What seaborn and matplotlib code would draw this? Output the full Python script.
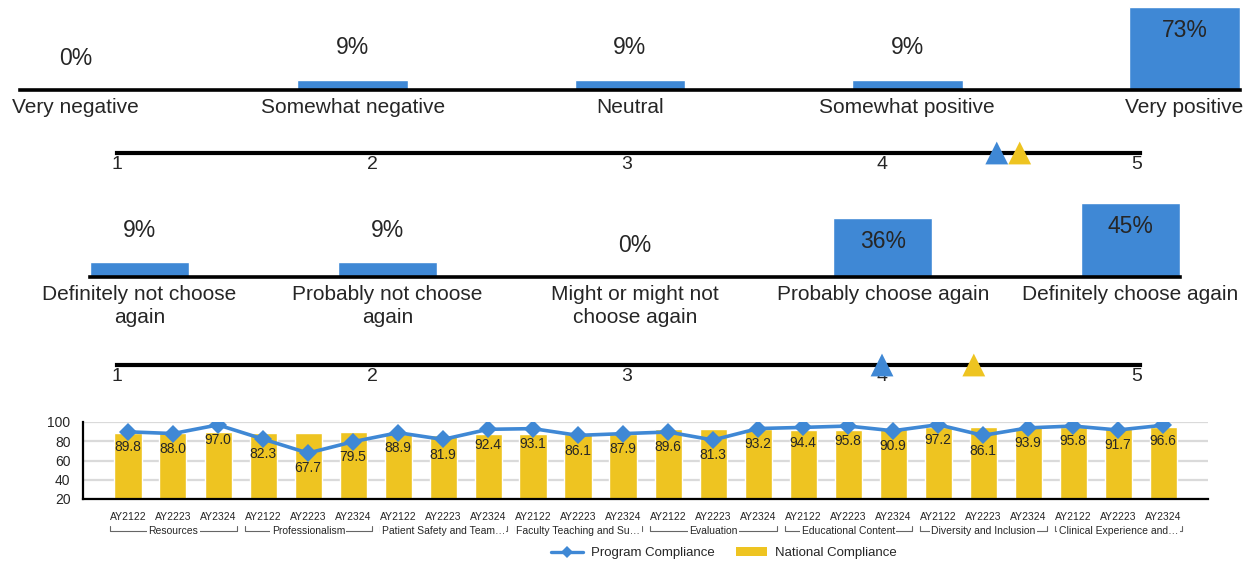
import numpy as np
import pandas as pd
import seaborn as sns
import matplotlib
matplotlib.use("Agg")
import matplotlib.pyplot as plt
from matplotlib.lines import Line2D
from matplotlib.patches import Patch

W, H = 1254, 562
BLUE = "#3F88D5"
YELLOW = "#EEC421"

# question 1: overall evaluation
Q1_LABELS = ["Very negative", "Somewhat negative", "Neutral", "Somewhat positive", "Very positive"]
Q1_PCT = [0, 9, 9, 9, 73]
Q1_PROGRAM_MEAN = 4.45
Q1_NATIONAL_MEAN = 4.54

# question 2: choose program again
Q2_LABELS = ["Definitely not choose\nagain", "Probably not choose\nagain", "Might or might not\nchoose again",
             "Probably choose again", "Definitely choose again"]
Q2_PCT = [9, 9, 0, 36, 45]
Q2_PROGRAM_MEAN = 4.0
Q2_NATIONAL_MEAN = 4.36

SCALE_TICKS = [1, 2, 3, 4, 5]

# compliance by domain and year
GROUPS = ["Resources", "Professionalism", "Patient Safety and Team\u2026", "Faculty Teaching and Su\u2026",
          "Evaluation", "Educational Content", "Diversity and Inclusion", "Clinical Experience and\u2026"]
YEARS = ["AY2122", "AY2223", "AY2324"]
PROGRAM = [89.8, 88.0, 97.0, 82.3, 67.7, 79.5, 88.9, 81.9, 92.4, 93.1, 86.1, 87.9,
           89.6, 81.3, 93.2, 94.4, 95.8, 90.9, 97.2, 86.1, 93.9, 95.8, 91.7, 96.6]
NATIONAL = [88.9, 88.9, 89.2, 89.0, 89.0, 89.3, 87.4, 86.1, 87.8, 87.1, 87.8, 87.8,
            92.3, 92.3, 93.0, 91.3, 91.6, 92.3, 94.4, 94.4, 95.2, 94.4, 93.7, 95.2]


def px_axes(fig, left, top, right, bottom):
    return fig.add_axes([left / W, 1 - bottom / H, (right - left) / W, (bottom - top) / H])


def draw_bar_row(fig, box, labels, pct):
    ax = px_axes(fig, *box)
    df = pd.DataFrame({"answer": labels, "pct": pct})
    sns.barplot(data=df, x="answer", y="pct", order=labels, color=BLUE, width=0.4,
                saturation=1, ax=ax)
    ax.set_xlim(-0.2, 4.2)
    ax.set_ylim(0, max(pct))
    ax.set_xlabel("")
    ax.set_ylabel("")
    ax.set_yticks([])
    for s in ["left", "right", "top"]:
        ax.spines[s].set_visible(False)
    ax.spines["bottom"].set_linewidth(2.6)
    ax.spines["bottom"].set_color("black")
    ax.tick_params(axis="x", length=3, width=0.8, color="#999999", direction="in",
                   pad=6, labelsize=15)
    for t in ax.get_xticklabels():
        t.set_linespacing(1.25)
    for i, v in enumerate(pct):
        off = -17 if v >= 30 else 23
        ax.annotate(f"{v}%", (i, v), xytext=(0, off), textcoords="offset points",
                    ha="center", va="center", fontsize=16.5, annotation_clip=False)
    ax.patch.set_alpha(0)
    return ax


def draw_scale(fig, y_line, prog, nat):
    ax = px_axes(fig, 117, y_line - 23, 1140, y_line + 23)
    ax.set_xlim(1, 5 + 3 / 255)
    ax.set_ylim(-1, 1)
    sns.scatterplot(x=[prog, nat], y=[0, 0], hue=["Program", "National"],
                    palette=[BLUE, YELLOW], marker="^", s=270, linewidth=0,
                    legend=False, ax=ax, zorder=3, clip_on=False)
    for s in ["left", "right", "top"]:
        ax.spines[s].set_visible(False)
    ax.spines["bottom"].set_position(("data", 0))
    ax.spines["bottom"].set_linewidth(3)
    ax.spines["bottom"].set_color("black")
    ax.set_yticks([])
    ax.set_xticks(SCALE_TICKS)
    ax.set_xticklabels([str(t) for t in SCALE_TICKS])
    ax.tick_params(axis="x", length=0, pad=2, labelsize=14)
    ax.patch.set_alpha(0)
    return ax


def draw_compliance(fig):
    ax = px_axes(fig, 83, 422, 1208, 499)
    df = pd.DataFrame({"slot": range(len(PROGRAM)), "national": NATIONAL, "program": PROGRAM})
    sns.barplot(data=df, x="slot", y="national", color=YELLOW, width=0.6, saturation=1,
                ax=ax, zorder=2)
    sns.lineplot(data=df, x="slot", y="program", color=BLUE, marker="D", markersize=9,
                 markeredgewidth=0, linewidth=2.6, ax=ax, zorder=3)
    ax.set_xlim(-1, 24)
    ax.set_ylim(20, 100)
    ax.set_yticks([20, 40, 60, 80, 100])
    ax.yaxis.grid(True, color="#DADADA", linewidth=1.6)
    ax.set_axisbelow(True)
    ax.set_xlabel("")
    ax.set_ylabel("")
    ax.set_xticks(range(len(PROGRAM)))
    ax.set_xticklabels(YEARS * len(GROUPS))
    ax.tick_params(axis="x", length=0, pad=9, labelsize=7.5)
    ax.tick_params(axis="y", length=6, width=1, color="#444444", pad=3, labelsize=10)
    for s in ["right", "top"]:
        ax.spines[s].set_visible(False)
    for s in ["left", "bottom"]:
        ax.spines[s].set_linewidth(1.6)
        ax.spines[s].set_color("black")
    for i, v in enumerate(PROGRAM):
        ax.annotate(f"{v:.1f}", (i, v), xytext=(0, -11), textcoords="offset points",
                    ha="center", va="center", fontsize=10, zorder=4)

    trans = ax.get_xaxis_transform()
    for g, name in enumerate(GROUPS):
        x0, x1 = g * 3 - 0.4, g * 3 + 2 + 0.42
        ax.plot([x0, x0, x1, x1], [-0.345, -0.415, -0.415, -0.345], transform=trans,
                clip_on=False, color="#666666", lw=0.8)
        ax.text((x0 + x1) / 2, -0.415, name, transform=trans, ha="center", va="center",
                fontsize=7.5, bbox=dict(facecolor="white", edgecolor="none", pad=1))

    handles = [Line2D([0], [0], color=BLUE, lw=2.4, marker="D", markersize=6, markeredgewidth=0),
               Patch(facecolor=YELLOW, edgecolor="none")]
    fig.legend(handles, ["Program Compliance", "National Compliance"], loc="center",
               bbox_to_anchor=(724 / W, 1 - 553 / H), ncol=2, frameon=False, fontsize=9.5,
               handlelength=2.4, columnspacing=1.6, handletextpad=0.6)
    return ax


def main():
    sns.set_style("white")
    plt.rcParams["font.family"] = ["Liberation Sans", "DejaVu Sans"]
    fig = plt.figure(figsize=(W / 100, H / 100), dpi=100)

    draw_bar_row(fig, (20, 7, 1240, 90), Q1_LABELS, Q1_PCT)
    draw_scale(fig, 153, Q1_PROGRAM_MEAN, Q1_NATIONAL_MEAN)
    draw_bar_row(fig, (90, 203, 1180, 277), Q2_LABELS, Q2_PCT)
    draw_scale(fig, 365, Q2_PROGRAM_MEAN, Q2_NATIONAL_MEAN)
    draw_compliance(fig)

    fig.savefig("out.png", dpi=100)


if __name__ == "__main__":
    main()
